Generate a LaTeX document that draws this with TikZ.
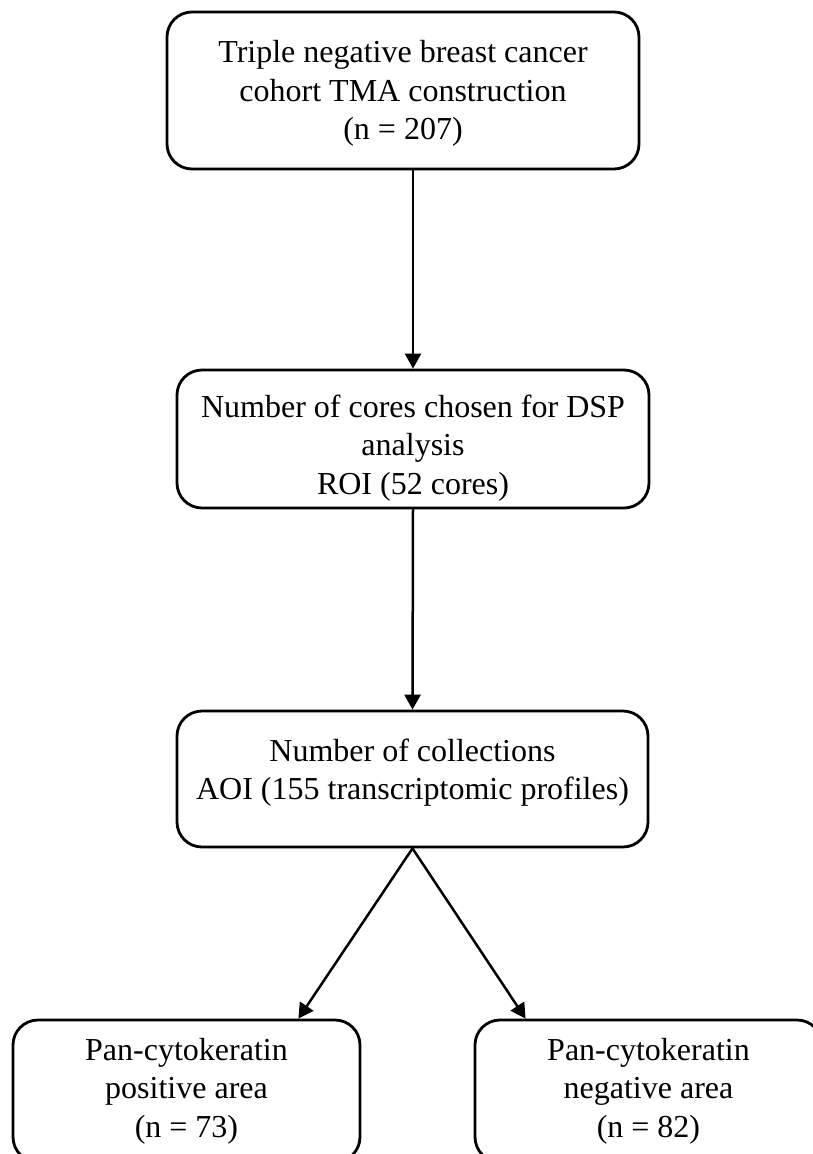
\documentclass[tikz,border=0pt]{standalone}
\usepackage{fontspec}
\setmainfont{Liberation Serif}
\usetikzlibrary{arrows.meta,calc}

\begin{document}
\begin{tikzpicture}[x=1pt,y=1pt,line cap=round,line join=round,
  >={Triangle[length=15pt,width=16pt]},
  stagebox/.style={draw,line width=2.8pt,rounded corners=25pt,align=center,inner sep=0pt,
    font=\fontsize{32}{38.5}\selectfont},
  flow/.style={->,line width=2.5pt}]
\useasboundingbox (0,0) rectangle (813,-1154);
\clip (0,0) rectangle (813,-1154);
% boxes
\node[stagebox,minimum width=472pt,minimum height=157pt] (tnbc) at (403,-90.5)
  {\rule{0pt}{28pt}Triple negative breast cancer\\cohort TMA construction\\(n = 207)};
\node[stagebox,minimum width=472pt,minimum height=138pt] (cores) at (413,-439)
  {\rule{0pt}{40pt}Number of cores chosen for DSP\\analysis\\ROI (52 cores)};
\node[stagebox,minimum width=471pt,minimum height=136pt] (aoi) at (412.5,-779)
  {Number of collections\\AOI (155 transcriptomic profiles)\rule[-20pt]{0pt}{0pt}};
\node[stagebox,minimum width=347pt,minimum height=142pt] (pos) at (186.5,-1091)
  {Pan-cytokeratin\\positive area\\(n = 73)};
\node[stagebox,minimum width=347pt,minimum height=142pt] (neg) at (648.5,-1091)
  {Pan-cytokeratin\\negative area\\(n = 82)};
\coordinate (posin) at ($(pos.north east)+(-63,0)$);
\coordinate (negin) at ($(neg.north west)+(52,0)$);
% arrows
\draw[flow] (tnbc.south -| cores.north) -- (cores.north);
\draw[flow] (cores.south) -- (aoi.north);
\draw[flow] (aoi.south) -- (posin);
\draw[flow] (aoi.south) -- (negin);
\end{tikzpicture}
\end{document}
